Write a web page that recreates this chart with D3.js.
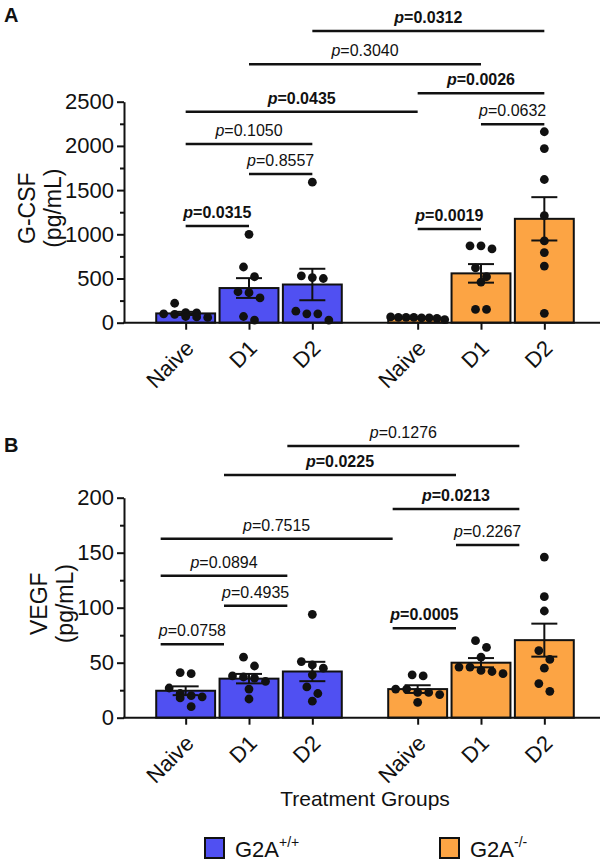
<!DOCTYPE html>
<html><head><meta charset="utf-8">
<script src="https://cdn.jsdelivr.net/npm/d3@7"></script>
<style>body{margin:0;background:#fff;} svg{display:block;font-family:"Liberation Sans",Arial,sans-serif;}</style>
</head><body>
<svg id="c" width="603" height="866"></svg>
<script>
const treatments = ["Naive", "D1", "D2"];
const genotypes = ["WT", "KO"];
const legendLabels = [["G2A", "+/+"], ["G2A", "-/-"]];
const colors = ["#5050f2", "#fca444"];

// Panel A: G-CSF
const gcsfMean = [[105, 392, 432], [55, 558, 1175]];
const gcsfSem = [[18, 112, 178], [8, 105, 245]];
const gcsfPoints = [
  [[220, 115, 110, 100, 95, 70, 65, 60], [1000, 630, 520, 350, 340, 280, 70, 30], [1590, 530, 510, 500, 130, 100, 100, 30]],
  [[65, 60, 60, 55, 60, 35, 55, 50], [870, 835, 870, 620, 520, 460, 150, 150], [2160, 1970, 1620, 1210, 925, 793, 641, 106]]
];
const gcsfTicks = [0, 500, 1000, 1500, 2000, 2500];
const gcsfMinor = [250, 750, 1250, 1750, 2250];
const gcsfComparisons = [
  ["WT-Naive", "WT-D1", 1094, "0.0315", true],
  ["KO-Naive", "KO-D1", 1060, "0.0019", true],
  ["WT-D1", "WT-D2", 1682, "0.8557", false],
  ["WT-Naive", "WT-D2", 2021, "0.1050", false],
  ["KO-D1", "KO-D2", 2244, "0.0632", false],
  ["WT-Naive", "KO-Naive", 2387, "0.0435", true],
  ["KO-Naive", "KO-D2", 2595, "0.0026", true],
  ["WT-D1", "KO-D1", 2923, "0.3040", false],
  ["WT-D2", "KO-D2", 3300, "0.0312", true]
];

// Panel B: VEGF
const vegfMean = [[24.5, 35.5, 42], [26, 50, 70.5]];
const vegfSem = [[4, 4.3, 8.8], [3.5, 4.2, 15]];
const vegfPoints = [
  [[40, 41, 22, 20, 19, 18, 27, 10], [55, 47, 38, 37, 36, 33, 26, 17], [94, 51, 48, 45, 39, 28, 22, 15]],
  [[38, 39, 26, 23, 23, 21, 14, 26], [70, 64, 55, 46, 46, 40, 43, 42], [146, 110, 97, 61, 53, 45, 31, 24]]
];
const vegfTicks = [0, 50, 100, 150, 200];
const vegfMinor = [25, 75, 125, 175];
const vegfComparisons = [
  ["WT-Naive", "WT-D1", 66.7, "0.0758", false],
  ["KO-Naive", "KO-D1", 81.3, "0.0005", true],
  ["WT-D1", "WT-D2", 101.8, "0.4935", false],
  ["WT-Naive", "WT-D2", 129, "0.0894", false],
  ["KO-D1", "KO-D2", 157, "0.2267", false],
  ["WT-Naive", "KO-Naive", 162.7, "0.7515", false],
  ["KO-Naive", "KO-D2", 189.7, "0.0213", true],
  ["WT-D1", "KO-D1", 220.6, "0.0225", true],
  ["WT-D2", "KO-D2", 247, "0.1276", false]
];

const svg = d3.select("#c");
const outer = d3.scaleBand().domain(genotypes).range([154, 576]).paddingInner(0.181);
const inner = d3.scaleBand().domain(treatments).range([0, outer.bandwidth()]).paddingInner(0.07).paddingOuter(0.035);
const cx = (g, t) => outer(g) + inner(t) + inner.bandwidth() / 2;
const keyX = k => { const [g, t] = k.split("-"); return cx(g, t); };
const axisX = 124, axisRight = 600;

function panel(opt) {
  const g = svg.append("g");
  const y = d3.scaleLinear().domain([0, opt.max]).range([opt.y0, opt.y1]);

  // Bars
  genotypes.forEach((gen, gi) => {
    treatments.forEach((t, ti) => {
      const m = opt.mean[gi][ti];
      const x = cx(gen, t), bw = inner.bandwidth();
      g.append("rect").attr("x", x - bw / 2).attr("y", y(m)).attr("width", bw).attr("height", y(0) - y(m))
        .attr("fill", colors[gi]).attr("stroke", "#111").attr("stroke-width", 2);
    });
  });
  // Points: rows of nearby values, spread symmetrically
  const r = 4.4, gap = 11, maxSpan = 54;
  genotypes.forEach((gen, gi) => {
    treatments.forEach((t, ti) => {
      const x0 = cx(gen, t);
      const vals = opt.points[gi][ti].slice().sort((a, b) => b - a).map(v => y(v));
      const rows = [];
      vals.forEach(py => {
        const last = rows[rows.length - 1];
        if (last && Math.abs(py - last[0]) < 2 * r + 1) last.push(py); else rows.push([py]);
      });
      const placed = [];
      rows.forEach(row => {
        const gp = row.length > 1 ? Math.min(gap, maxSpan / (row.length - 1)) : 0;
        row.forEach((py, i) => placed.push([x0 + (i - (row.length - 1) / 2) * gp, py]));
      });
      g.selectAll(null).data(placed).enter().append("circle")
        .attr("cx", d => d[0]).attr("cy", d => d[1]).attr("r", r).attr("fill", "#111");
    });
  });
  // Error bars
  genotypes.forEach((gen, gi) => {
    treatments.forEach((t, ti) => {
      const m = opt.mean[gi][ti], s = opt.sem[gi][ti];
      const x = cx(gen, t);
      const eb = g.append("g").attr("stroke", "#111").attr("stroke-width", 2);
      eb.append("line").attr("x1", x).attr("x2", x).attr("y1", y(m - s)).attr("y2", y(m + s));
      [m - s, m + s].forEach(v => eb.append("line").attr("x1", x - 13).attr("x2", x + 13).attr("y1", y(v)).attr("y2", y(v)));
    });
  });

  // Y axis
  const ya = g.append("g").attr("transform", `translate(${axisX},0)`)
    .call(d3.axisLeft(y).tickValues(opt.ticks).tickFormat(d3.format("d")).tickSize(7).tickSizeOuter(0).tickPadding(3));
  ya.select(".domain").attr("stroke", "#111").attr("stroke-width", 2);
  ya.selectAll(".tick line").attr("stroke", "#111").attr("stroke-width", 2);
  ya.selectAll(".tick text").attr("font-size", 22).attr("fill", "#111").attr("font-family", "Liberation Sans, Arial, sans-serif");
  const ym = g.append("g").attr("transform", `translate(${axisX},0)`)
    .call(d3.axisLeft(y).tickValues(opt.minor).tickSize(4).tickFormat(""));
  ym.select(".domain").remove();
  ym.selectAll(".tick line").attr("stroke", "#111").attr("stroke-width", 2);

  // X axis
  g.append("line").attr("x1", axisX - 1).attr("x2", axisRight).attr("y1", y(0)).attr("y2", y(0))
    .attr("stroke", "#111").attr("stroke-width", 2);
  const keys = [], pos = [];
  genotypes.forEach(gen => treatments.forEach(t => { keys.push(gen + "-" + t); pos.push(cx(gen, t)); }));
  const xo = d3.scaleOrdinal().domain(keys).range(pos);
  const xa = g.append("g").attr("transform", `translate(0,${y(0)})`)
    .call(d3.axisBottom(xo).tickSize(7).tickFormat(k => k.split("-")[1]));
  xa.select(".domain").remove();
  xa.selectAll(".tick line").attr("stroke", "#111").attr("stroke-width", 2);
  xa.selectAll(".tick text").attr("font-size", 22).attr("fill", "#111").attr("font-family", "Liberation Sans, Arial, sans-serif")
    .attr("text-anchor", "end").attr("dy", null).attr("y", 0)
    .attr("transform", "translate(9,27) rotate(-45)");

  // Y label
  const yl = g.append("text").attr("transform", `translate(${opt.labelX},${(opt.y0 + opt.y1) / 2 - 4}) rotate(-90)`)
    .attr("text-anchor", "middle").attr("font-size", 23).attr("fill", "#111");
  yl.append("tspan").attr("x", 0).attr("dy", 0).text(opt.title);
  yl.append("tspan").attr("x", 0).attr("dy", 26).text("(pg/mL)");

  // Comparisons
  opt.comps.forEach(([a, b, v, p, bold]) => {
    const x1 = keyX(a) + opt.shift, x2 = keyX(b) + opt.shift, ly = y(v);
    g.append("line").attr("x1", x1).attr("x2", x2).attr("y1", ly).attr("y2", ly)
      .attr("stroke", "#111").attr("stroke-width", 2.5);
    const tx = g.append("text").attr("x", (x1 + x2) / 2).attr("y", ly - 8).attr("text-anchor", "middle")
      .attr("font-size", 16).attr("fill", "#111").attr("font-weight", bold ? "bold" : "normal");
    tx.append("tspan").attr("font-style", "italic").text("p");
    tx.append("tspan").text("=" + p);
  });

  // Panel letter
  svg.append("text").attr("x", 4).attr("y", opt.letterY).attr("font-size", 20).attr("font-weight", "bold")
    .attr("fill", "#111").text(opt.letter);
}

panel({ max: 2500, y0: 322.7, y1: 101.7, mean: gcsfMean, sem: gcsfSem, points: gcsfPoints, ticks: gcsfTicks,
  minor: gcsfMinor, comps: gcsfComparisons, shift: 0, title: "G-CSF", labelX: 35, letter: "A", letterY: 22 });
panel({ max: 200, y0: 717.7, y1: 497.7, mean: vegfMean, sem: vegfSem, points: vegfPoints, ticks: vegfTicks,
  minor: vegfMinor, comps: vegfComparisons, shift: -25, title: "VEGF", labelX: 47, letter: "B", letterY: 452 });

// X title
svg.append("text").attr("x", 365).attr("y", 806).attr("text-anchor", "middle").attr("font-size", 21)
  .attr("fill", "#111").text("Treatment Groups");

// Legend
const legendX = [205, 440];
genotypes.forEach((gen, i) => {
  const lg = svg.append("g").attr("transform", `translate(${legendX[i]},838)`);
  lg.append("rect").attr("width", 19).attr("height", 20).attr("fill", colors[i]).attr("stroke", "#111").attr("stroke-width", 2);
  const t = lg.append("text").attr("x", 30).attr("y", 19).attr("font-size", 22).attr("fill", "#111");
  t.append("tspan").text(legendLabels[i][0]);
  t.append("tspan").attr("font-size", 14).attr("dy", -10).text(legendLabels[i][1]);
});
</script>
</body></html>
